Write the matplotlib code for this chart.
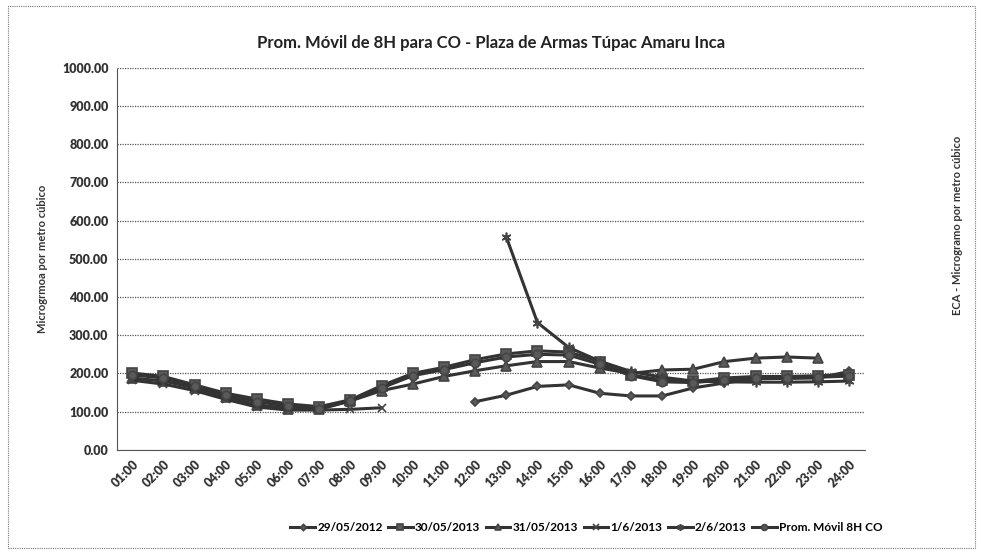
import numpy as np
import matplotlib
matplotlib.use("Agg")
import matplotlib.pyplot as plt
from matplotlib.patches import Rectangle

plt.rcParams['font.family'] = ['Lato', 'DejaVu Sans']

# Datos
horas = ['%02d:00' % h for h in range(1, 25)]

s_29_05_2012 = [None]*11 + [126, 143, 166, 170, 148, 141, 141, 162, 175, 186, 187, 188, 205]
s_30_05_2013 = [201, 192, 170, 148, 133, 120, 113, 131, 168, 200, 216, 236, 251, 259, 256, 231,
                196, 183, 179, 188, 192, 192, 194, 196]
s_31_05_2013 = [188, 180, 162, 138, 118, 108, 106, 128, 155, 172, 192, 207, 220, 231, 231, 214,
                200, 209, 211, 231, 240, 243, 240, None]
s_1_6_2013 = [182, 172, 155, 132, 112, 104, 104, 106, 110] + [None]*15
s_2_6_2013 = [None]*12 + [557, 333, 268, 232, 205, 190, 180, 178, 177, 177, 178, 180]
prom_movil = [196, 188, 166, 143, 126, 114, 108, 128, 162, 194, 210, 228, 243, 250, 248, 224,
              194, 178, 176, 183, 187, 188, 190, 193]

series = [
    ('29/05/2012', s_29_05_2012, 'D', 4.5),
    ('30/05/2013', s_30_05_2013, 's', 7),
    ('31/05/2013', s_31_05_2013, '^', 7),
    ('1/6/2013', s_1_6_2013, 'x', 6),
    ('2/6/2013', s_2_6_2013, (6, 2, 0), 7),
    ('Prom. Móvil 8H CO', prom_movil, 'o', 6),
]

fig = plt.figure(figsize=(9.81, 5.56), dpi=100)
ax = fig.add_axes([0.119, 0.191, 0.7625, 0.687])

x = np.arange(len(horas))
for nombre, vals, mk, ms in series:
    y = np.array([np.nan if v is None else v for v in vals], dtype=float)
    ax.plot(x, y, color='#333333', lw=2.2, marker=mk, markersize=ms,
            markerfacecolor='#5a5a5a', markeredgecolor='#444444', mew=1.2, label=nombre)

ax.set_xlim(-0.5, len(horas) - 0.5)
ax.set_ylim(0, 1000)
ax.set_yticks(np.arange(0, 1001, 100))
ax.set_yticklabels(['%.2f' % v for v in np.arange(0, 1001, 100)], fontsize=9, fontweight='heavy',
                   color='#333333')
ax.set_xticks(x)
ax.set_xticklabels(horas, rotation=45, ha='right', rotation_mode='anchor', fontsize=9,
                   fontweight='heavy', color='#333333')
ax.tick_params(length=0, pad=6)
ax.yaxis.grid(True, color='#555555', linestyle=(0, (1, 1)), lw=0.9)
ax.set_axisbelow(True)
for s in ['top', 'right']:
    ax.spines[s].set_visible(False)
ax.spines['left'].set_linestyle((0, (1, 1)))
ax.spines['left'].set_color('#555555')
ax.spines['bottom'].set_color('#555555')

ax.set_title('Prom. Móvil de 8H para CO - Plaza de Armas Túpac Amaru Inca', fontsize=12,
             fontweight='bold', color='#222222', pad=14)
ax.set_ylabel('Microgrmoa por metro cúbico', fontsize=8, fontweight='bold', color='#333333',
              labelpad=10)
fig.text(0.976, 0.595, 'ECA - Microgramo por metro cúbico', rotation=90, fontsize=8,
         fontweight='bold', color='#333333', ha='center', va='center')

ax.legend(loc='upper center', bbox_to_anchor=(0.628, -0.162), ncol=6, frameon=False,
          handlelength=2.1, handletextpad=0.2, columnspacing=0.45,
          markerscale=0.7, prop={'weight': 'bold', 'size': 8.5})

fig.patches.append(Rectangle((0.008, 0.014), 0.986, 0.975, transform=fig.transFigure,
                             fill=False, edgecolor='#777777', linestyle=(0, (1, 1)), lw=0.8))

fig.savefig('out.png', dpi=100)
